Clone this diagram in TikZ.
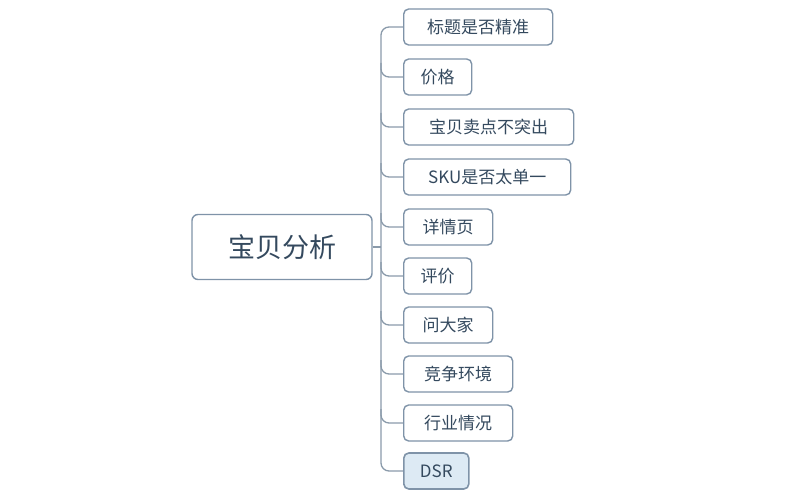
\documentclass[tikz,border=0pt]{standalone}
\usepackage{fontspec}
\setmainfont{Noto Sans CJK SC}
\usetikzlibrary{calc}
\definecolor{bd}{HTML}{7F93A8}
\definecolor{tx}{HTML}{34495E}
\definecolor{ln}{HTML}{8A9AAA}
\definecolor{dsr}{HTML}{DDEAF4}
\begin{document}
\begin{tikzpicture}[x=1pt,y=-1pt,
  br/.style={draw=bd,line width=1.4pt,rounded corners=5pt,fill=white,text=tx,font=\fontsize{17}{18}\selectfont,anchor=west,minimum height=36pt,inner sep=0pt},
  conn/.style={draw=ln,line width=1.3pt,rounded corners=8pt}]
\useasboundingbox (0,0) rectangle (800,500);
\node[draw=bd,line width=1.4pt,rounded corners=6pt,text=tx,font=\fontsize{27}{28}\selectfont,minimum width=180pt,minimum height=65pt] (m) at (282,247) {宝贝分析};
\foreach \n/\y/\w/\t in {b1/27/149/标题是否精准,b2/77/68/价格,b3/127/170/宝贝卖点不突出,b4/177/167/SKU是否太单一,b5/227/89/详情页,b6/276/68/评价,b7/325/89/问大家,b8/374/109/竞争环境,b9/423/109/行业情况}{
  \node[br,minimum width={\w pt}] (\n) at (403,\y) {\t};
}
\node[br,minimum width=65pt,fill=dsr,draw=bd,line width=1.6pt] (b10) at (403,471) {DSR};
\coordinate (s) at (381,247);
\draw[conn] (m.east) -- (s);
\draw[conn] (b1.west) -| (381,247) |- (b10.west);
\foreach \n in {b2,b3,b4,b5,b6,b7,b8,b9}{
  \draw[conn] ($(\n.west)+(-22,-14)$) |- (\n.west);
}
\end{tikzpicture}
\end{document}
